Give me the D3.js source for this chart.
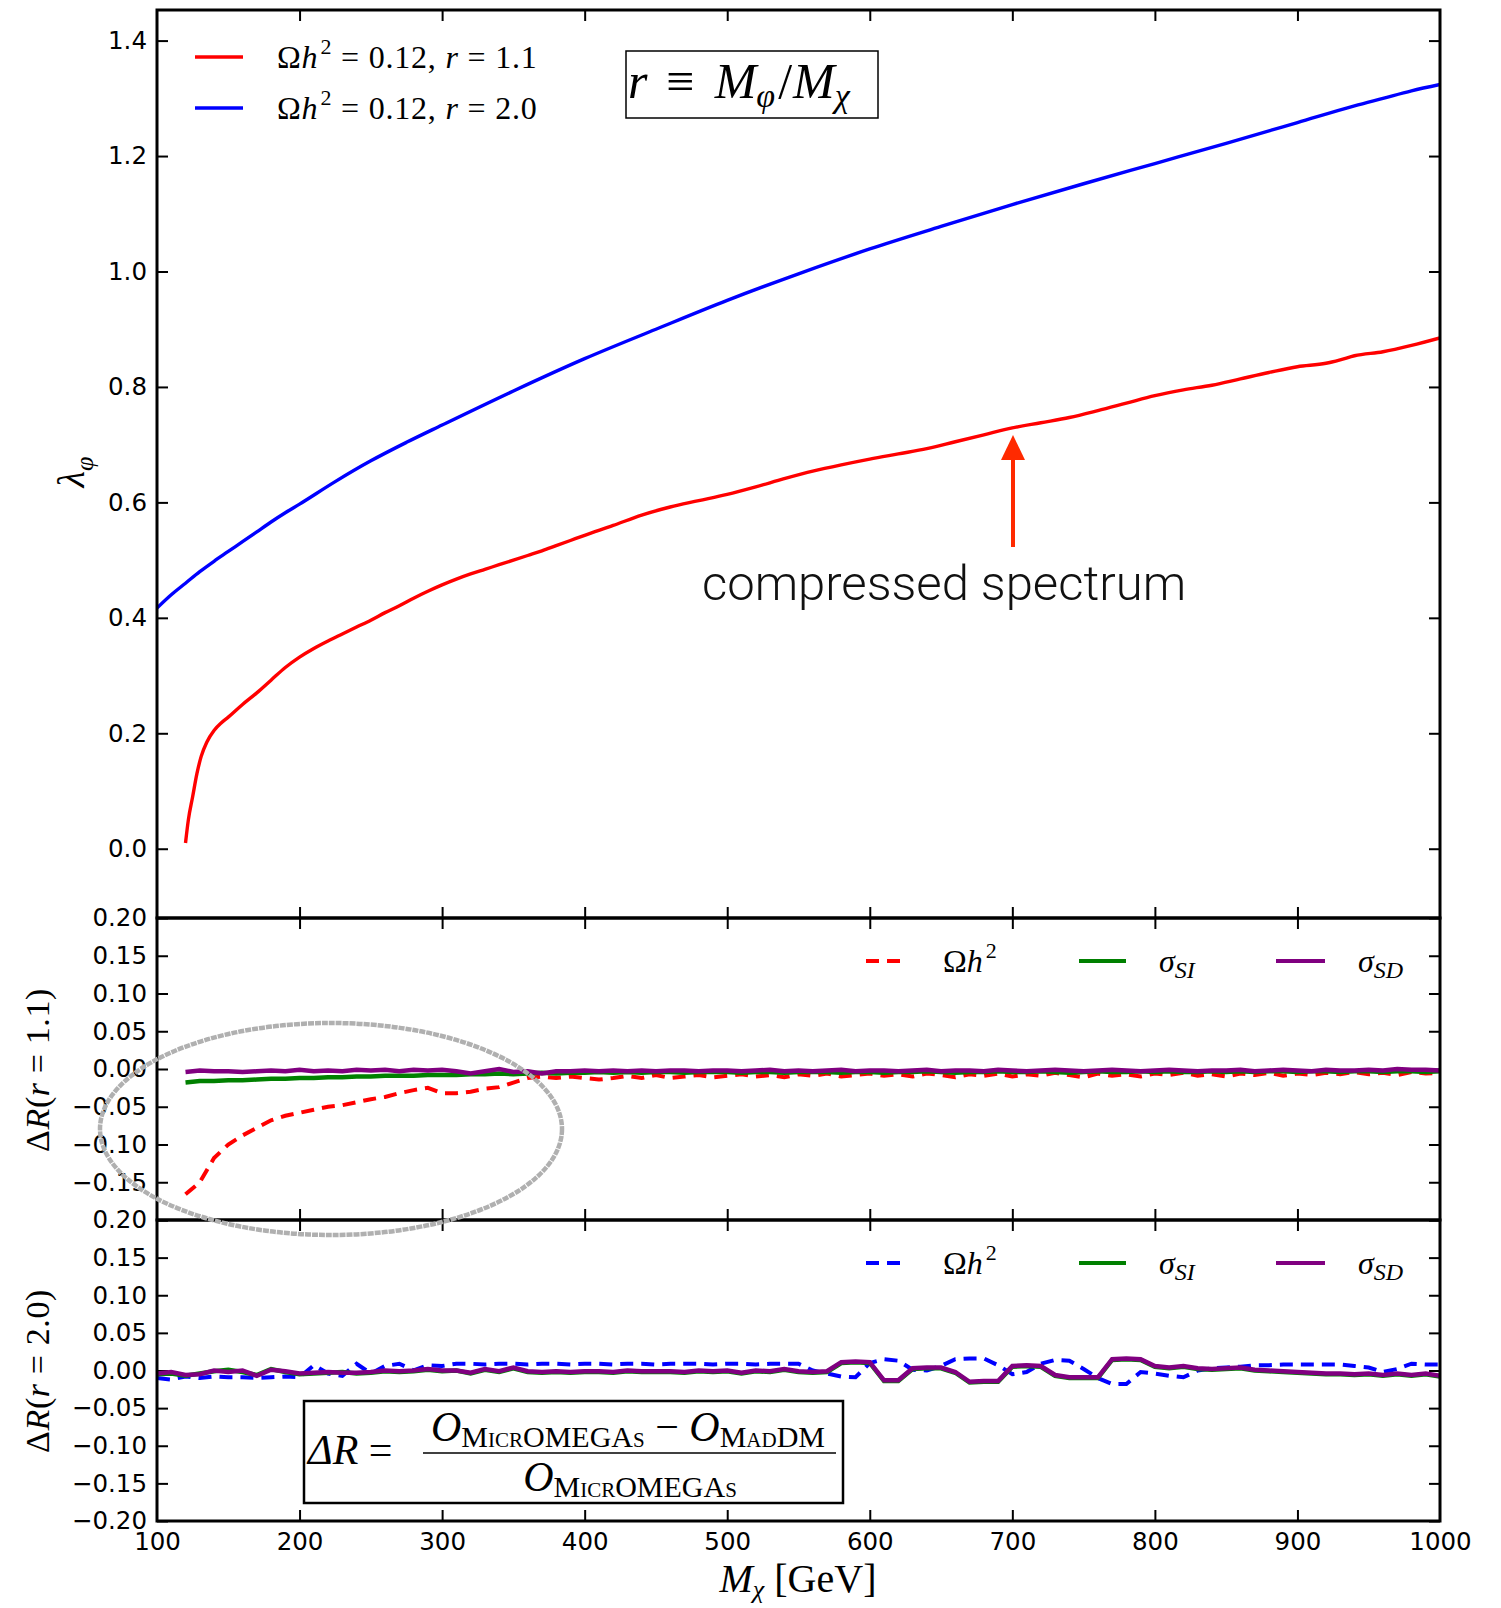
<!DOCTYPE html>
<html><head><meta charset="utf-8">
<script src="https://cdn.jsdelivr.net/npm/d3@7"></script>
<style>body{margin:0;background:#fff}svg{display:block}</style>
</head><body>
<script>
// ---------- DATA ----------
const massR11 = [120,122,125,128,131,135,140,145,150,160,170,180,190,200,210,220,230,240,250,260,270,280,290,300,310,320,330,340,350,360,370,380,390,400,420,440,460,480,500,520,540,560,580,600,620,640,660,680,700,720,740,760,780,800,820,840,860,880,900,920,930,940,960,980,1000];
const lambdaR11 = [0.01,0.05,0.09,0.13,0.16,0.185,0.205,0.218,0.228,0.25,0.27,0.292,0.314,0.332,0.347,0.36,0.372,0.384,0.396,0.409,0.421,0.434,0.446,0.457,0.467,0.476,0.484,0.492,0.5,0.508,0.516,0.525,0.534,0.543,0.56,0.578,0.592,0.603,0.614,0.627,0.641,0.654,0.665,0.675,0.684,0.693,0.705,0.717,0.729,0.738,0.747,0.759,0.772,0.785,0.795,0.803,0.814,0.825,0.835,0.841,0.847,0.854,0.861,0.872,0.885];
const massR20 = [100,110,120,130,140,150,160,170,180,190,200,225,250,275,300,350,400,450,500,550,600,650,700,750,800,850,900,940,960,980,1000];
const lambdaR20 = [0.417,0.44,0.46,0.48,0.498,0.515,0.532,0.549,0.566,0.582,0.597,0.636,0.672,0.704,0.734,0.793,0.849,0.90,0.95,0.996,1.039,1.078,1.116,1.152,1.187,1.222,1.258,1.287,1.300,1.313,1.324];

const massDelta = [100,110,120,130,140,150,160,170,180,190,200,210,220,230,240,250,260,270,280,290,300,310,320,330,340,350,360,370,380,390,400,410,420,430,440,450,460,470,480,490,500,510,520,530,540,550,560,570,580,590,600,610,620,630,640,650,660,670,680,690,700,710,720,730,740,750,760,770,780,790,800,810,820,830,840,850,860,870,880,890,900,910,920,930,940,950,960,970,980,990,1000];
// r = 1.1 (from 120 GeV)
const dOmegaR11 = [-0.166,-0.150,-0.118,-0.100,-0.088,-0.078,-0.068,-0.062,
 -0.058,-0.054,-0.050,-0.048,-0.044,-0.040,-0.037,-0.032,-0.028,-0.025,
 -0.032,-0.032,-0.030,-0.026,-0.024,-0.018,-0.012,-0.010,-0.012,-0.010,
 -0.012,-0.014,-0.012,-0.009,-0.012,-0.008,-0.012,-0.010,-0.008,-0.011,
 -0.009,-0.007,-0.010,-0.008,-0.011,-0.007,-0.009,-0.006,-0.010,-0.008,
 -0.006,-0.009,-0.007,-0.010,-0.006,-0.008,-0.011,-0.007,-0.009,-0.006,
 -0.010,-0.007,-0.009,-0.005,-0.008,-0.011,-0.006,-0.009,-0.007,-0.010,
 -0.006,-0.008,-0.005,-0.009,-0.007,-0.010,-0.006,-0.008,-0.005,-0.009,
 -0.006,-0.008,-0.005,-0.007,-0.004,-0.007,-0.005,-0.008,-0.004,-0.006,-0.005];
const dSIR11 = [-0.018,-0.016,-0.016,-0.015,-0.015,-0.014,-0.013,-0.013,
 -0.012,-0.012,-0.011,-0.011,-0.010,-0.010,-0.009,-0.009,-0.009,-0.008,
 -0.008,-0.008,-0.007,-0.007,-0.006,-0.007,-0.006,-0.005,-0.006,-0.005,
 -0.005,-0.004,-0.005,-0.004,-0.005,-0.004,-0.004,-0.005,-0.004,-0.004,
 -0.004,-0.005,-0.004,-0.004,-0.005,-0.004,-0.004,-0.004,-0.005,-0.004,
 -0.004,-0.005,-0.004,-0.004,-0.003,-0.004,-0.005,-0.004,-0.004,-0.003,
 -0.004,-0.004,-0.003,-0.004,-0.005,-0.004,-0.003,-0.004,-0.004,-0.003,
 -0.004,-0.003,-0.004,-0.004,-0.003,-0.004,-0.003,-0.004,-0.003,-0.003,
 -0.004,-0.003,-0.003,-0.004,-0.003,-0.003,-0.004,-0.003,-0.003,-0.004,-0.003];
const dSDR11 = [-0.004,-0.002,-0.003,-0.003,-0.004,-0.003,-0.002,-0.003,
 -0.001,-0.003,-0.002,-0.003,-0.001,-0.002,-0.001,-0.003,-0.001,-0.002,
 -0.001,-0.003,-0.006,-0.003,0.000,-0.004,-0.003,-0.006,-0.003,-0.003,
 -0.002,-0.003,-0.002,-0.003,-0.002,-0.003,-0.002,-0.002,-0.003,-0.002,
 -0.002,-0.003,-0.002,-0.001,-0.003,-0.002,-0.003,-0.002,-0.001,-0.003,
 -0.002,-0.002,-0.003,-0.002,-0.001,-0.003,-0.002,-0.002,-0.003,-0.001,
 -0.002,-0.003,-0.002,-0.001,-0.002,-0.003,-0.002,-0.001,-0.002,-0.003,
 -0.002,-0.001,-0.002,-0.003,-0.002,-0.002,-0.001,-0.003,-0.002,-0.001,
 -0.002,-0.003,-0.001,-0.002,-0.002,-0.001,-0.002,0.000,-0.001,-0.001,-0.002];
// r = 2.0 (from 100 GeV)
const dOmegaR20 = [-0.010,-0.012,-0.008,-0.010,-0.008,-0.009,-0.009,-0.010,-0.009,-0.008,
 -0.009,0.007,-0.004,-0.007,0.009,-0.004,0.006,0.009,0.000,0.007,
 0.006,0.009,0.009,0.008,0.009,0.009,0.008,0.009,0.009,0.008,
 0.009,0.009,0.008,0.009,0.009,0.008,0.009,0.009,0.009,0.008,
 0.009,0.009,0.008,0.009,0.009,0.009,0.000,-0.004,-0.008,-0.009,
 0.010,0.015,0.013,0.001,0.000,0.006,0.015,0.016,0.016,0.007,
 -0.005,-0.002,0.009,0.014,0.013,0.002,-0.010,-0.018,-0.018,-0.002,
 -0.004,-0.007,-0.009,0.000,0.003,0.004,0.005,0.007,0.007,0.008,
 0.008,0.008,0.008,0.008,0.006,0.004,-0.002,0.002,0.009,0.008,0.008];
const dSIR20 = [-0.005,-0.004,-0.007,-0.004,-0.001,0.001,-0.002,-0.006,0.002,-0.002,
 -0.005,-0.004,-0.003,-0.002,-0.004,-0.003,-0.001,-0.002,-0.001,0.001,
 -0.001,0.000,-0.004,0.001,-0.002,0.003,-0.002,-0.003,-0.002,-0.003,
 -0.002,-0.002,-0.003,-0.001,-0.002,-0.002,-0.002,-0.003,-0.001,-0.002,
 -0.001,-0.004,-0.001,-0.002,0.001,-0.002,-0.003,-0.002,0.010,0.011,
 0.010,-0.014,-0.014,0.002,0.003,0.003,-0.003,-0.016,-0.015,-0.015,
 0.005,0.006,0.005,-0.007,-0.010,-0.010,-0.010,0.014,0.015,0.014,
 0.005,0.003,0.005,0.002,0.001,0.002,0.003,0.000,-0.001,-0.002,
 -0.003,-0.004,-0.005,-0.005,-0.006,-0.005,-0.007,-0.005,-0.007,-0.005,-0.008];
const dSDR20 = [-0.004,-0.002,-0.006,-0.005,0.000,-0.002,0.000,-0.007,0.001,-0.001,
 -0.004,-0.003,-0.002,-0.003,-0.003,-0.002,0.000,-0.001,0.000,0.002,
 0.000,0.000,-0.003,0.002,-0.001,0.004,-0.001,-0.002,-0.001,-0.002,
 -0.001,-0.001,-0.002,0.000,-0.001,-0.001,-0.001,-0.002,0.000,-0.001,
 0.000,-0.003,0.000,-0.001,0.002,-0.001,-0.002,-0.001,0.011,0.012,
 0.011,-0.013,-0.013,0.003,0.004,0.004,-0.002,-0.015,-0.014,-0.014,
 0.006,0.007,0.006,-0.006,-0.009,-0.009,-0.009,0.015,0.016,0.015,
 0.006,0.004,0.006,0.003,0.002,0.003,0.004,0.001,0.000,-0.001,
 -0.002,-0.003,-0.004,-0.004,-0.005,-0.004,-0.006,-0.004,-0.006,-0.004,-0.007];

const xTicks = [100,200,300,400,500,600,700,800,900,1000];
const yTopTicks = [0.0,0.2,0.4,0.6,0.8,1.0,1.2,1.4];
const yMidTicks = [-0.20,-0.15,-0.10,-0.05,0.00,0.05,0.10,0.15,0.20];
const yMidLabels = [-0.15,-0.10,-0.05,0.00,0.05,0.10,0.15,0.20];

// ---------- LAYOUT ----------
const W = 1501, H = 1608;
const L = 157, R = 1440;
const P1 = [10, 918], P2 = [918, 1220], P3 = [1220, 1521];
const svg = d3.select("body").append("svg").attr("width", W).attr("height", H);
const serif = "'Liberation Serif','Times New Roman',serif";
const sans = "'DejaVu Sans',sans-serif";

const x = d3.scaleLinear().domain([100, 1000]).range([L, R]);
const yTop = d3.scaleLinear().domain([-0.12, 1.453]).range([P1[1], P1[0]]);
const yMid = d3.scaleLinear().domain([-0.2, 0.2]).range([P2[1], P2[0]]);
const yBot = d3.scaleLinear().domain([-0.2, 0.2]).range([P3[1], P3[0]]);

const defs = svg.append("defs");
[["c1", P1], ["c2", P2], ["c3", P3]].forEach(([id, p]) => {
  defs.append("clipPath").attr("id", id).append("rect")
    .attr("x", L).attr("y", p[0]).attr("width", R - L).attr("height", p[1] - p[0]);
});

function styleAxis(g) {
  g.select(".domain").remove();
  g.selectAll(".tick line").attr("stroke", "#000").attr("stroke-width", 2);
  g.selectAll(".tick text").attr("font-family", sans).attr("font-size", 24.5).attr("fill", "#000");
}

function frame(p, y, leftTicks, labelVals, fmt, xLabels) {
  const yAx = d3.axisLeft(y).tickValues(leftTicks).tickSize(-11).tickPadding(10).tickFormat(d => labelVals.some(v => Math.abs(v - d) < 1e-9) ? fmt(d) : "");
  svg.append("g").attr("transform", `translate(${L},0)`).call(yAx).call(styleAxis);
  svg.append("g").attr("transform", `translate(${R},0)`).call(d3.axisRight(y).tickValues(leftTicks).tickSize(-11).tickFormat("")).call(styleAxis);
  svg.append("g").attr("transform", `translate(0,${p[0]})`).call(d3.axisTop(x).tickValues(xTicks.slice(1, -1)).tickSize(-11).tickFormat("")).call(styleAxis);
  const xb = d3.axisBottom(x).tickValues(xLabels ? xTicks : xTicks.slice(1, -1)).tickSize(-11).tickPadding(12).tickFormat(xLabels ? d3.format("d") : "");
  const gb = svg.append("g").attr("transform", `translate(0,${p[1]})`).call(xb).call(styleAxis);
  if (xLabels) gb.selectAll(".tick line").filter(d => d === 100 || d === 1000).remove();
}

const f1 = d3.format(".1f"), f2 = d3.format(".2f");
frame(P1, yTop, yTopTicks, yTopTicks, f1, false);
frame(P2, yMid, yMidTicks, yMidLabels, f2, false);
frame(P3, yBot, yMidTicks, yMidTicks, f2, true);

// ---------- CURVES ----------
const line = (y) => d3.line().x(d => x(d[0])).y(d => y(d[1]));
const g1 = svg.append("g").attr("clip-path", "url(#c1)");
g1.append("path").datum(d3.zip(massR20, lambdaR20)).attr("d", line(yTop).curve(d3.curveMonotoneX))
  .attr("fill", "none").attr("stroke", "#0000ff").attr("stroke-width", 3.4);
g1.append("path").datum(d3.zip(massR11, lambdaR11)).attr("d", line(yTop).curve(d3.curveMonotoneX))
  .attr("fill", "none").attr("stroke", "#ff0000").attr("stroke-width", 3.4);

const g2 = svg.append("g").attr("clip-path", "url(#c2)");
const m11 = massDelta.slice(2);
g2.append("path").datum(d3.zip(m11, dOmegaR11)).attr("d", line(yMid))
  .attr("fill", "none").attr("stroke", "#ff0000").attr("stroke-width", 4).attr("stroke-dasharray", "13,8");
g2.append("path").datum(d3.zip(m11, dSIR11)).attr("d", line(yMid))
  .attr("fill", "none").attr("stroke", "#008000").attr("stroke-width", 4.5);
g2.append("path").datum(d3.zip(m11, dSDR11)).attr("d", line(yMid))
  .attr("fill", "none").attr("stroke", "#800080").attr("stroke-width", 4.5);

const g3 = svg.append("g").attr("clip-path", "url(#c3)");
g3.append("path").datum(d3.zip(massDelta, dOmegaR20)).attr("d", line(yBot))
  .attr("fill", "none").attr("stroke", "#0000ff").attr("stroke-width", 4).attr("stroke-dasharray", "13,8");
g3.append("path").datum(d3.zip(massDelta, dSIR20)).attr("d", line(yBot))
  .attr("fill", "none").attr("stroke", "#008000").attr("stroke-width", 4.5);
g3.append("path").datum(d3.zip(massDelta, dSDR20)).attr("d", line(yBot))
  .attr("fill", "none").attr("stroke", "#800080").attr("stroke-width", 4.5);

// spines
[P1, P2, P3].forEach(p => svg.append("rect").attr("x", L).attr("y", p[0]).attr("width", R - L).attr("height", p[1] - p[0])
  .attr("fill", "none").attr("stroke", "#000").attr("stroke-width", 3));

// ---------- TEXT HELPERS ----------
function rich(t, parts) {
  parts.forEach(p => {
    const s = t.append("tspan").text(p.t);
    if (p.it) s.attr("font-style", "italic");
    if (p.sc) s.style("font-variant", "small-caps");
    if (p.dy !== undefined) s.attr("dy", p.dy);
    if (p.fs) s.attr("font-size", p.fs);
    if (p.dx) s.attr("dx", p.dx);
  });
  return t;
}

// top legend
const legTop = [["#ff0000", "1.1", 57], ["#0000ff", "2.0", 108]];
legTop.forEach(([c, r, yy]) => {
  svg.append("line").attr("x1", 195).attr("x2", 243).attr("y1", yy).attr("y2", yy).attr("stroke", c).attr("stroke-width", 3.5);
  const t = svg.append("text").attr("x", 277).attr("y", yy + 11).attr("font-family", serif).attr("font-size", 32).attr("letter-spacing", 0.8);
  rich(t, [{t: "Ω"}, {t: "h", it: true}, {t: "2", fs: 22, dy: -14, dx: 2}, {t: " = 0.12, ", dy: 14}, {t: "r", it: true}, {t: " = " + r}]);
});

// r box
svg.append("rect").attr("x", 626).attr("y", 51).attr("width", 252).attr("height", 67).attr("fill", "#fff").attr("stroke", "#000").attr("stroke-width", 1.5);
rich(svg.append("text").attr("x", 628).attr("y", 98).attr("font-family", serif).attr("font-size", 50),
  [{t: "r", it: true}, {t: " ≡ ", dx: 6}, {t: "M", it: true, dx: 8}, {t: "φ", it: true, fs: 34, dy: 9}, {t: "/", dy: -9, dx: 3}, {t: "M", it: true, dx: 1}, {t: "χ", it: true, fs: 34, dy: 9}]);

// y labels
rich(svg.append("text").attr("transform", "translate(84,472) rotate(-90)").attr("text-anchor", "middle").attr("font-family", serif).attr("font-size", 38),
  [{t: "λ", it: true}, {t: "φ", it: true, fs: 26, dy: 9}]);
rich(svg.append("text").attr("transform", "translate(49,1070) rotate(-90)").attr("text-anchor", "middle").attr("font-family", serif).attr("font-size", 34).attr("letter-spacing", 0.6),
  [{t: "Δ"}, {t: "R", it: true}, {t: "("}, {t: "r", it: true}, {t: " = 1.1)"}]);
rich(svg.append("text").attr("transform", "translate(49,1371) rotate(-90)").attr("text-anchor", "middle").attr("font-family", serif).attr("font-size", 34).attr("letter-spacing", 0.6),
  [{t: "Δ"}, {t: "R", it: true}, {t: "("}, {t: "r", it: true}, {t: " = 2.0)"}]);
// x label
rich(svg.append("text").attr("x", 798).attr("y", 1592).attr("text-anchor", "middle").attr("font-family", serif).attr("font-size", 40),
  [{t: "M", it: true}, {t: "χ", it: true, fs: 26, dy: 6}, {t: " [GeV]", dy: -6}]);

// delta legends
function deltaLegend(yy, c) {
  svg.append("line").attr("x1", 866).attr("x2", 907).attr("y1", yy).attr("y2", yy).attr("stroke", c).attr("stroke-width", 4).attr("stroke-dasharray", "13,8");
  rich(svg.append("text").attr("x", 943).attr("y", yy + 11).attr("font-family", serif).attr("font-size", 32),
    [{t: "Ω"}, {t: "h", it: true}, {t: "2", fs: 22, dy: -14, dx: 3}]);
  svg.append("line").attr("x1", 1079).attr("x2", 1126).attr("y1", yy).attr("y2", yy).attr("stroke", "#008000").attr("stroke-width", 4);
  rich(svg.append("text").attr("x", 1159).attr("y", yy + 11).attr("font-family", serif).attr("font-size", 32),
    [{t: "σ", it: true}, {t: "SI", it: true, fs: 24, dy: 6}]);
  svg.append("line").attr("x1", 1276).attr("x2", 1325).attr("y1", yy).attr("y2", yy).attr("stroke", "#800080").attr("stroke-width", 4);
  rich(svg.append("text").attr("x", 1358).attr("y", yy + 11).attr("font-family", serif).attr("font-size", 32),
    [{t: "σ", it: true}, {t: "SD", it: true, fs: 24, dy: 6}]);
}
deltaLegend(961, "#ff0000");
deltaLegend(1263, "#0000ff");

// ΔR box
svg.append("rect").attr("x", 304).attr("y", 1401).attr("width", 539).attr("height", 102).attr("fill", "#fff").attr("stroke", "#000").attr("stroke-width", 2.5);
rich(svg.append("text").attr("x", 308).attr("y", 1464).attr("font-family", serif).attr("font-size", 42),
  [{t: "ΔR", it: true}, {t: " ="}]);
rich(svg.append("text").attr("x", 628).attr("y", 1441).attr("text-anchor", "middle").attr("font-family", serif).attr("font-size", 42),
  [{t: "O", it: true}, {t: "MicrOMEGAs", sc: true, fs: 30, dy: 6}, {t: " − ", dy: -6}, {t: "O", it: true}, {t: "MadDM", sc: true, fs: 30, dy: 6}]);
svg.append("line").attr("x1", 423).attr("x2", 836).attr("y1", 1453).attr("y2", 1453).attr("stroke", "#000").attr("stroke-width", 1.6);
rich(svg.append("text").attr("x", 630).attr("y", 1491).attr("text-anchor", "middle").attr("font-family", serif).attr("font-size", 42),
  [{t: "O", it: true}, {t: "MicrOMEGAs", sc: true, fs: 30, dy: 6}]);

// ellipse annotation
svg.append("ellipse").attr("cx", 331).attr("cy", 1129).attr("rx", 231).attr("ry", 106)
  .attr("fill", "none").attr("stroke", "#b0b0b0").attr("stroke-width", 4.5).attr("stroke-dasharray", "6,1");

// compressed spectrum annotation
const ax = 1013;
svg.append("line").attr("x1", ax).attr("x2", ax).attr("y1", 547).attr("y2", 455).attr("stroke", "#ff2a00").attr("stroke-width", 4);
svg.append("path").attr("d", `M${ax},435 L${ax - 12},460 L${ax + 12},460 Z`).attr("fill", "#ff2a00");
svg.append("text").attr("x", 944).attr("y", 600).attr("text-anchor", "middle")
  .attr("font-family", "'Roboto','Liberation Sans',sans-serif").attr("font-weight", 300).attr("font-size", 49)
  .attr("fill", "#111").text("compressed spectrum");
</script>
</body></html>
